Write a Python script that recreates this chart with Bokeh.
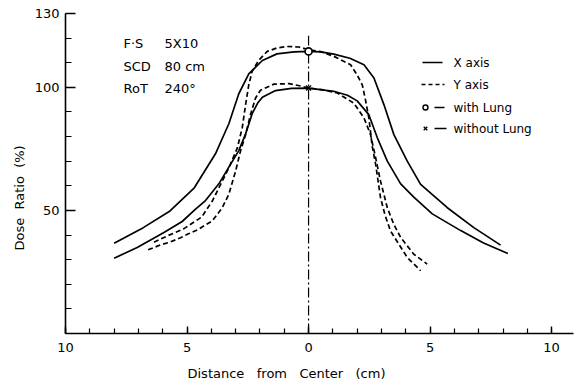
from bokeh.plotting import figure
from bokeh.models import FixedTicker, Range1d, Title
from bokeh.core.properties import value
from bokeh.embed import file_html
from bokeh.resources import INLINE

# ---- data ----
x_axis_lung_x = [-8.0, -6.8, -5.7, -4.7, -3.83, -3.28, -2.87, -2.46, -1.9, -1.3, -0.6, 0.0,
                 0.5, 1.04, 1.7, 2.28, 2.69, 3.1, 3.51, 4.06, 4.61, 5.71, 6.8, 7.9]
x_axis_lung_y = [36.7, 43.0, 49.8, 59.2, 73.0, 85.2, 97.4, 105.5, 110.9, 113.6, 114.4, 114.6,
                 114.4, 113.5, 111.8, 109.2, 103.8, 93.0, 80.8, 70.0, 60.6, 51.1, 43.0, 35.9]

x_axis_nolung_x = [-8.0, -7.05, -5.95, -5.2, -4.65, -4.24, -3.69, -3.28, -2.87, -2.59, -2.32, -2.1,
                   -1.9, -1.36, -0.7, 0.0, 1.04, 1.6, 2.0, 2.48, 2.83, 3.24, 3.79, 4.33, 5.09,
                   6.26, 7.2, 8.2]
x_axis_nolung_y = [30.6, 34.9, 41.0, 45.5, 50.5, 54.0, 60.8, 67.6, 74.3, 81.1, 89.3, 93.5,
                   96.0, 98.7, 99.6, 99.7, 98.4, 96.8, 94.5, 88.9, 79.5, 70.0, 60.8, 55.4, 48.6,
                   41.8, 36.8, 32.5]

y_axis_lung_x = [-6.36, -5.8, -5.14, -4.4, -3.96, -3.55, -3.28, -2.93, -2.73, -2.59, -2.46, -2.32,
                 -2.05, -1.7, -1.3, -0.88, -0.4, 0.0, 0.5, 1.04, 1.73, 2.0, 2.21, 2.35, 2.48,
                 2.62, 2.76, 2.96, 3.15, 3.37, 3.7, 4.06, 4.61]
y_axis_lung_y = [37.1, 39.7, 42.5, 47.3, 53.8, 61.9, 67.3, 75.4, 83.5, 93.0, 101.0, 106.5,
                 111.0, 114.6, 116.0, 116.6, 116.4, 115.3, 114.5, 112.6, 109.2, 105.0, 101.0, 94.5, 87.6,
                 76.0, 68.7, 55.2, 48.0, 41.7, 36.5, 30.9, 25.5]

y_axis_nolung_x = [-6.6, -6.09, -5.68, -5.27, -4.94, -4.57, -4.24, -3.96, -3.55, -3.28, -3.0, -2.8,
                   -2.59, -2.39, -2.18, -1.98, -1.43, -0.8, -0.3, 0.0, 0.6, 1.18, 1.86, 2.28,
                   2.55, 2.76, 2.96, 3.24, 3.5, 3.79, 4.33, 4.88]
y_axis_nolung_y = [34.0, 36.0, 37.2, 38.9, 40.5, 42.1, 44.1, 45.7, 51.1, 56.6, 66.0, 74.1,
                   80.8, 88.9, 95.7, 98.8, 101.3, 101.5, 100.5, 99.7, 99.0, 97.7, 93.6, 87.6,
                   80.8, 71.4, 61.9, 51.1, 44.5, 39.0, 32.2, 28.2]

with_lung_peak_x = [0.0]
with_lung_peak_y = [114.6]
without_lung_peak_x = [0.0]
without_lung_peak_y = [99.7]

center_x = [0.0]
center_top = [121.0]

y_major = [50, 100, 130]
y_minor = list(range(0, 131, 10))
x_major = [-10, -5, 0, 5, 10]
x_minor = list(range(-10, 11))
x_tick_labels = ["10", "5", "0", "5", "10"]

legend_labels = ["X  axis", "Y  axis", "with  Lung", "without  Lung"]
info_keys = ["F\u00b7S", "SCD", "RoT"]
info_vals = ["5X10", "80 cm", "240\u00b0"]

y_title = "Dose\u00a0 Ratio\u00a0 (%)"
x_title = "Distance\u00a0\u00a0 from\u00a0\u00a0 Center\u00a0\u00a0 (cm)"

# ---- layout helpers (pixel -> data) ----
X0, X1, Y0, Y1 = -10.0, 10.9, 0.0, 130.0
LEFT, RIGHT, TOP, BOTTOM = 65, 573, 13, 333
def dx(px):
    return X0 + (px - LEFT) * (X1 - X0) / (RIGHT - LEFT)
def dy(py):
    return Y0 + (BOTTOM - py) * (Y1 - Y0) / (BOTTOM - TOP)

FONT = "DejaVu Sans"

p = figure(width=584, height=391, x_range=Range1d(X0, X1), y_range=Range1d(Y0, Y1),
           output_backend="svg", toolbar_location=None,
           min_border_left=LEFT, min_border_right=584 - RIGHT,
           min_border_top=TOP, min_border_bottom=391 - BOTTOM)
p.outline_line_color = None
p.xgrid.visible = False
p.ygrid.visible = False
p.background_fill_color = "white"
p.border_fill_color = "white"

for ax in (p.xaxis, p.yaxis):
    ax.axis_line_width = 1.6
    ax.axis_line_color = "black"
    ax.major_tick_out = 0
    ax.minor_tick_out = 0
    ax.major_tick_line_width = 1.4
    ax.minor_tick_line_width = 1.2
    ax.major_label_text_font = FONT
    ax.major_label_text_font_size = "13px"
    ax.major_label_text_color = "black"

p.yaxis.ticker = FixedTicker(ticks=y_major, minor_ticks=y_minor)
p.yaxis.major_tick_in = 10
p.yaxis.minor_tick_in = 6
p.yaxis.major_label_standoff = 6

p.xaxis.ticker = FixedTicker(ticks=x_major, minor_ticks=x_minor)
p.xaxis.major_tick_in = 7
p.xaxis.minor_tick_in = 5
p.xaxis.major_label_standoff = 9
p.xaxis.major_label_overrides = {k: v for k, v in zip(x_major, x_tick_labels)}

# axis titles as side titles (positioned with align/offset)
p.add_layout(Title(text=y_title, align="left", offset=83, standoff=10,
                   text_font=FONT, text_font_size="13px", text_font_style="normal",
                   text_color="black"), "left")
p.add_layout(Title(text=x_title, align="left", offset=122, standoff=19,
                   text_font=FONT, text_font_size="13px", text_font_style="normal",
                   text_color="black"), "below")

# center dash-dot line
p.segment(x0=center_x, y0=[0.0], x1=center_x, y1=center_top,
          line_color="black", line_width=1.2, line_dash="10 3 2 3")

LW = 1.7
p.line(x_axis_lung_x, x_axis_lung_y, line_color="black", line_width=LW, line_join="round")
p.line(x_axis_nolung_x, x_axis_nolung_y, line_color="black", line_width=LW, line_join="round")
p.line(y_axis_lung_x, y_axis_lung_y, line_color="black", line_width=LW, line_dash="5 3")
p.line(y_axis_nolung_x, y_axis_nolung_y, line_color="black", line_width=LW, line_dash="5 3")

p.scatter(with_lung_peak_x, with_lung_peak_y, marker="circle", size=7,
          fill_color="white", line_color="black", line_width=1.6)
p.scatter(without_lung_peak_x, without_lung_peak_y, marker="x", size=7,
          line_color="black", line_width=1.4)

# ---- legend (manual) ----
rows_py = [62, 84, 107, 128]
for i, lab in enumerate(legend_labels):
    yy = dy(rows_py[i])
    if i == 0:
        p.segment(x0=[dx(422)], y0=[yy], x1=[dx(442)], y1=[yy], line_color="black", line_width=1.5)
    elif i == 1:
        p.segment(x0=[dx(421)], y0=[yy], x1=[dx(444)], y1=[yy], line_color="black",
                  line_width=1.5, line_dash="4 3")
    elif i == 2:
        p.scatter([dx(425)], [yy], marker="circle", size=5, fill_color="white",
                  line_color="black", line_width=1.4)
        p.segment(x0=[dx(434)], y0=[yy], x1=[dx(444)], y1=[yy], line_color="black", line_width=1.5)
    else:
        p.scatter([dx(425)], [yy], marker="x", size=5, line_color="black", line_width=1.3)
        p.segment(x0=[dx(434)], y0=[yy], x1=[dx(446)], y1=[yy], line_color="black", line_width=1.5)
    p.text(x=[dx(453)], y=[yy], text=[lab], text_font=value(FONT), text_font_size="12px",
           text_baseline="middle", text_align="left", text_color="black")

# ---- info text ----
info_py = [43, 66, 88]
for i in range(3):
    yy = dy(info_py[i])
    p.text(x=[dx(123)], y=[yy], text=[info_keys[i]], text_font=value(FONT), text_font_size="13px",
           text_baseline="middle", text_align="left", text_color="black")
    p.text(x=[dx(164)], y=[yy], text=[info_vals[i]], text_font=value(FONT), text_font_size="13px",
           text_baseline="middle", text_align="left", text_color="black")

open("out.html", "w").write(file_html(p, INLINE))
